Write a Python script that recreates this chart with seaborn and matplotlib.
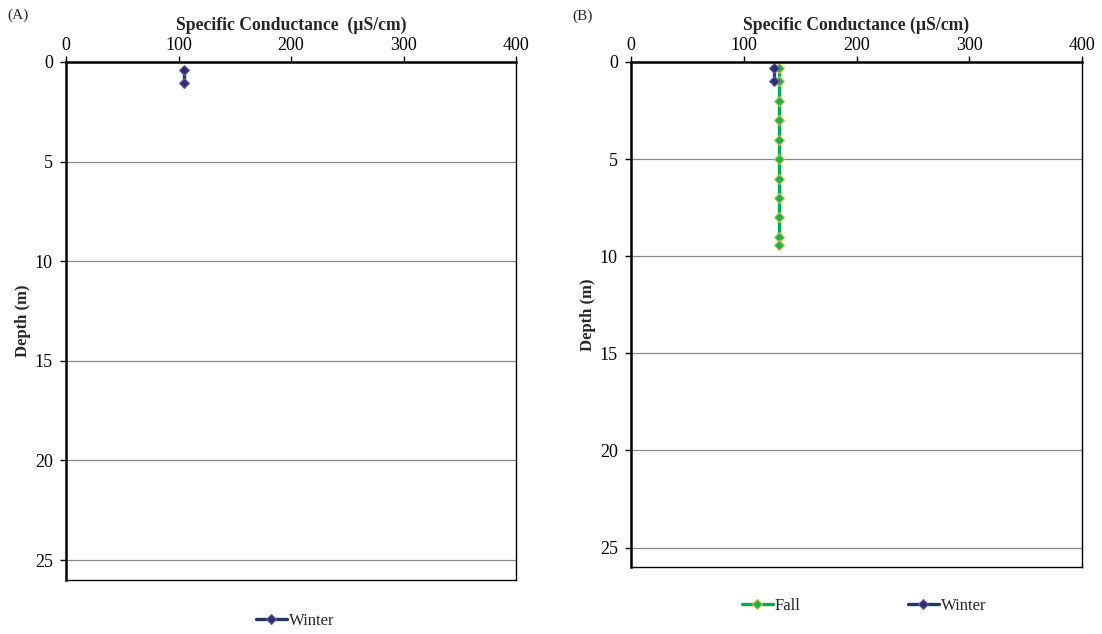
import seaborn as sns
import matplotlib.pyplot as plt
import pandas as pd

# panel A - winter profile
a_winter_depth = [0.4, 1.05]
a_winter_cond = [105, 105]

# panel B - fall and winter profiles
b_fall_depth = [0.3, 1, 2, 3, 4, 5, 6, 7, 8, 9, 9.4]
b_fall_cond = [131, 131, 131, 131, 131, 131, 131, 131, 131, 131, 131]
b_winter_depth = [0.3, 1.0]
b_winter_cond = [127, 127]

xticks = [0, 100, 200, 300, 400]
yticks = [0, 5, 10, 15, 20, 25]

sns.set_theme(style='white')
plt.rcParams['font.family'] = ['Liberation Serif', 'DejaVu Serif']

winter_line = '#1F3864'
winter_face = '#2B2F6E'
winter_edge = '#6A5FA8'
fall_line = '#00B050'
fall_face = '#1FAF4B'
fall_edge = '#C4C14A'

fig = plt.figure(figsize=(11.02, 6.34), dpi=100)
axA = fig.add_axes([66/1102, 1-580/634, 450/1102, 518/634])
axB = fig.add_axes([631/1102, 1-567/634, 451/1102, 505/634])


def style_ax(ax, label, title):
    ax.set_xlim(0, 400)
    ax.set_ylim(26, 0)
    ax.xaxis.tick_top()
    ax.xaxis.set_label_position('top')
    ax.set_xticks(xticks)
    ax.set_yticks(yticks)
    for y in yticks[1:]:
        ax.axhline(y, color='#888888', lw=0.9, zorder=0)
    ax.tick_params(axis='both', which='major', direction='out', length=4, width=1,
                   labelsize=13, colors='black', top=True, left=True, bottom=False, right=False)
    ax.tick_params(axis='x', pad=2)
    ax.tick_params(axis='y', pad=5.5)
    for s in ['bottom', 'right']:
        ax.spines[s].set_linewidth(1.0)
        ax.spines[s].set_color('black')
    for s in ['top', 'left']:
        ax.spines[s].set_linewidth(1.8)
        ax.spines[s].set_color('black')
    ax.set_xlabel(title, fontsize=12.7, fontweight='bold', labelpad=5)
    ax.set_ylabel('Depth (m)', fontsize=12, fontweight='bold', labelpad=3)
    ax.text(-0.13, 1.09, label, transform=ax.transAxes, fontsize=11, ha='left', va='center')


mk = dict(marker='D', markersize=4.6, markeredgewidth=0.8, linewidth=2.4)

dfA = pd.DataFrame({'depth': a_winter_depth, 'cond': a_winter_cond})
sns.lineplot(data=dfA, x='cond', y='depth', orient='y', ax=axA, color=winter_line,
             markerfacecolor=winter_face, markeredgecolor=winter_edge, label='Winter', **mk)
style_ax(axA, '(A)', 'Specific Conductance  (µS/cm)')
axA.legend(loc='center', bbox_to_anchor=(295/1102, 1-621/634), bbox_transform=fig.transFigure,
           frameon=False, fontsize=12, handlelength=1.9, handletextpad=0.1, borderpad=0)

dfBf = pd.DataFrame({'depth': b_fall_depth, 'cond': b_fall_cond})
dfBw = pd.DataFrame({'depth': b_winter_depth, 'cond': b_winter_cond})
sns.lineplot(data=dfBf, x='cond', y='depth', orient='y', ax=axB, color=fall_line,
             markerfacecolor=fall_face, markeredgecolor=fall_edge, label='Fall', **mk)
sns.lineplot(data=dfBw, x='cond', y='depth', orient='y', ax=axB, color=winter_line,
             markerfacecolor=winter_face, markeredgecolor=winter_edge, label='Winter', **mk)
style_ax(axB, '(B)', 'Specific Conductance (µS/cm)')
axB.legend(loc='center', bbox_to_anchor=(864/1102, 1-606/634), bbox_transform=fig.transFigure,
           frameon=False, fontsize=12, ncol=2, handlelength=1.9, handletextpad=0.1,
           columnspacing=6.4, borderpad=0)

fig.savefig('out.png', dpi=100)
